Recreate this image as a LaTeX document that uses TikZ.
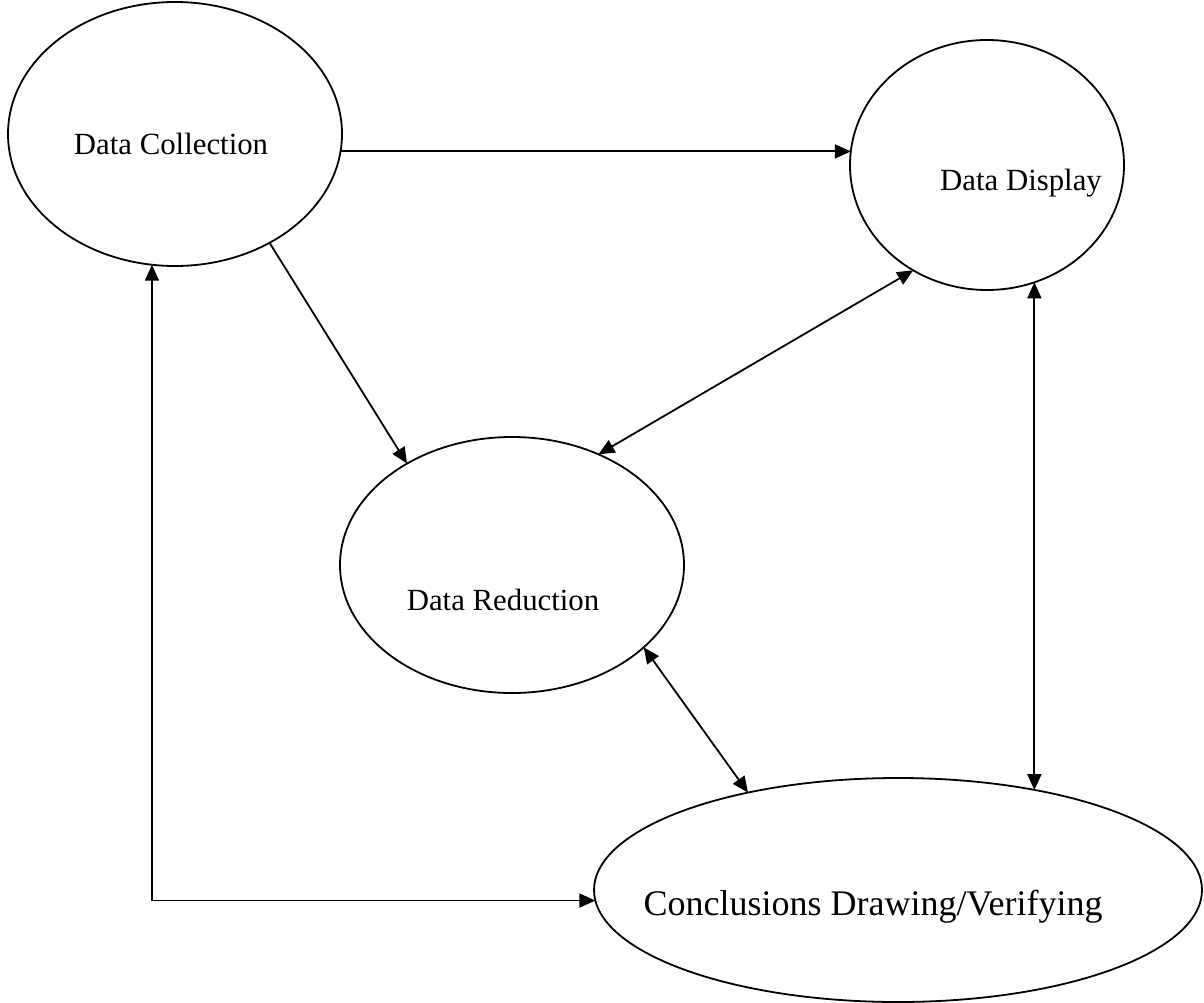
\documentclass[tikz,border=0pt]{standalone}
\usepackage{fontspec}
\setmainfont{Liberation Serif}
\usetikzlibrary{arrows.meta,shapes.geometric}
\begin{document}
\begin{tikzpicture}[x=1pt,y=-1pt,
  bubble/.style={draw, ellipse, line width=1.8pt, inner sep=0pt, outer sep=0pt},
  caption/.style={font=\fontsize{30.8}{37}\selectfont, anchor=base, inner sep=0pt},
  bigcaption/.style={caption, font=\fontsize{36}{43}\selectfont},
  link/.style={line width=1.8pt, -{Triangle[length=16pt,width=14pt]}},
  both/.style={line width=1.8pt, {Triangle[length=16pt,width=14pt]}-{Triangle[length=16pt,width=14pt]}}]
\useasboundingbox (0,0) rectangle (1204,1003);

% the four stages
\node[bubble, minimum width=334pt, minimum height=264pt] (dc) at (175,134) {};
\node[bubble, minimum width=274pt, minimum height=250pt] (dd) at (987,165) {};
\node[bubble, minimum width=344pt, minimum height=256pt] (dr) at (512,565) {};
\node[bubble, minimum width=608pt, minimum height=224pt] (cd) at (898,890) {};

\node[caption] (tdc) at (171,155) {Data Collection};
\node[caption] (tdd) at (1021,190) {Data Display};
\node[caption] (tdr) at (503,610) {Data Reduction};
\node[bigcaption] (tcd) at (873,915) {Conclusions Drawing/Verifying};

% border directions (angles measured from each centre)
\pgfmathsetmacro\aA{atan2(134-152,342-175)}
\pgfmathsetmacro\aB{atan2(165-152,850-987)}
\pgfmathsetmacro\aC{atan2(134-265,285-175)}
\pgfmathsetmacro\aD{atan2(565-462,403-512)}
\pgfmathsetmacro\aE{atan2(165-286,1035-987)}
\pgfmathsetmacro\aF{atan2(890-789,1035-898)}
\pgfmathsetmacro\aG{atan2(134-266,151-175)}
\pgfmathsetmacro\aH{atan2(890-900,594-898)}
\pgfmathsetmacro\aI{atan2(565-458,593-512)}
\pgfmathsetmacro\aJ{atan2(165-267,913-987)}
\pgfmathsetmacro\aK{atan2(565-648,643-512)}
\pgfmathsetmacro\aL{atan2(890-790,743-898)}

% connectors
\draw[link] (dc.\aA) -- (dc.\aA -| dd.\aB);
\draw[link] (dc.\aC) -- (dr.\aD);
\draw[both] (dr.\aI) -- (dd.\aJ);
\draw[both] (dd.\aE) -- (dd.\aE |- cd.\aF);
\draw[both] (dr.\aK) -- (cd.\aL);
\draw[both] (dc.\aG) -- (dc.\aG |- cd.\aH) -- (cd.\aH);
\end{tikzpicture}
\end{document}
